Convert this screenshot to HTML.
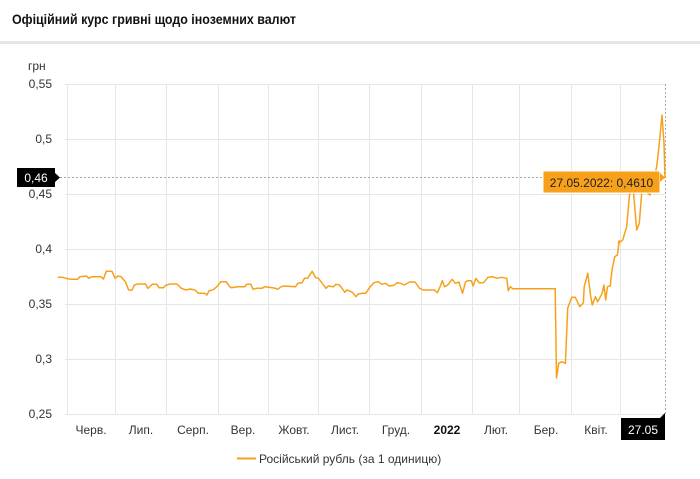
<!DOCTYPE html>
<html><head><meta charset="utf-8"><style>
body{margin:0;width:700px;height:474px;background:#fff;overflow:hidden;font-family:"Liberation Sans",sans-serif}
</style></head><body>
<svg width="700" height="474" xmlns="http://www.w3.org/2000/svg" font-family="Liberation Sans, sans-serif">
<text x="12" y="24" font-size="14" font-weight="bold" fill="#111" textLength="284" lengthAdjust="spacingAndGlyphs">Офіційний курс гривні щодо іноземних валют</text>
<rect x="0" y="41" width="700" height="3" fill="#e6e6e6"/>
<g stroke="#e6e6e6" stroke-width="1">
<line x1="65" y1="84.5" x2="665" y2="84.5"/><line x1="65" y1="139.5" x2="665" y2="139.5"/><line x1="65" y1="194.5" x2="665" y2="194.5"/><line x1="65" y1="249.5" x2="665" y2="249.5"/><line x1="65" y1="304.5" x2="665" y2="304.5"/><line x1="65" y1="359.5" x2="665" y2="359.5"/><line x1="65" y1="414.5" x2="665" y2="414.5"/>
<line x1="67.5" y1="84" x2="67.5" y2="414"/><line x1="115.5" y1="84" x2="115.5" y2="414"/><line x1="166.5" y1="84" x2="166.5" y2="414"/><line x1="218.5" y1="84" x2="218.5" y2="414"/><line x1="268.5" y1="84" x2="268.5" y2="414"/><line x1="318.5" y1="84" x2="318.5" y2="414"/><line x1="369.5" y1="84" x2="369.5" y2="414"/><line x1="421.5" y1="84" x2="421.5" y2="414"/><line x1="472.5" y1="84" x2="472.5" y2="414"/><line x1="519.5" y1="84" x2="519.5" y2="414"/><line x1="571.5" y1="84" x2="571.5" y2="414"/><line x1="620.5" y1="84" x2="620.5" y2="414"/>
</g>
<g font-size="12" fill="#333" text-anchor="end">
<text x="28" y="70" text-anchor="start">грн</text>
<text x="52" y="88">0,55</text><text x="52" y="143">0,5</text><text x="52" y="198">0,45</text><text x="52" y="253">0,4</text><text x="52" y="308">0,35</text><text x="52" y="363">0,3</text><text x="52" y="418">0,25</text>
</g>
<g font-size="12" fill="#333" text-anchor="middle">
<text x="91" y="434">Черв.</text><text x="141" y="434">Лип.</text><text x="193" y="434">Серп.</text><text x="243" y="434">Вер.</text><text x="294" y="434">Жовт.</text><text x="345" y="434">Лист.</text><text x="396" y="434">Груд.</text><text x="447" y="434" font-weight="bold" fill="#111">2022</text><text x="496" y="434">Лют.</text><text x="546" y="434">Бер.</text><text x="596" y="434">Квіт.</text>
</g>
<line x1="60" y1="177.5" x2="665" y2="177.5" stroke="#aaa" stroke-dasharray="2,2"/>
<line x1="665.5" y1="84" x2="665.5" y2="414" stroke="#aaa" stroke-dasharray="2,2"/>
<path id="ln" d="" fill="none" stroke="#f7a11a" stroke-width="1.5" stroke-linejoin="round"/>
<rect x="17" y="168" width="38" height="19" fill="#000"/><polygon points="55,173 60,177.5 55,182" fill="#000"/>
<text x="36" y="182" font-size="12" fill="#fff" text-anchor="middle">0,46</text>
<rect x="621" y="418" width="44" height="22" fill="#000"/><polygon points="660,418 665,413 665,418" fill="#000"/>
<text x="643" y="434" font-size="12" fill="#fff" text-anchor="middle">27.05</text>
<rect x="543" y="171" width="117" height="22" fill="#f7a11a" stroke="#fff" stroke-width="1"/><polygon points="660,173 665,177.5 660,182" fill="#f7a11a"/>
<text x="601.5" y="187" font-size="12" fill="#222" text-anchor="middle">27.05.2022: 0,4610</text>
<line x1="237" y1="458.5" x2="256" y2="458.5" stroke="#f7a11a" stroke-width="2"/>
<text x="259" y="463" font-size="12" fill="#333">Російський рубль (за 1 одиницю)</text>
</svg>
<script>
var z=[134,112,145,112,155,116,165,118,178,118,183,110,198,108,203,115,210,110,230,110,236,117,242,94,255,94,262,115,268,108,275,110,285,125,292,150,300,150,305,135,312,132,330,132,335,145,345,133,355,133,360,143,370,143,375,136,385,132,400,132,410,145,420,150,430,147,440,150,448,160,462,160,467,165,472,152,480,150,488,142,498,125,510,125,518,140,522,143,535,140,552,140,556,133,565,133,570,148,578,145,590,145,596,140,605,142,620,145,625,148,633,140,640,138,665,140,670,130,680,128,685,115,692,115,702,94,710,113,716,115,722,125,733,145,738,138,750,140,755,133,763,135,770,147,775,157,780,150,792,157,800,170,805,162,815,160,822,160,830,143,840,128,850,125,858,133,865,130,875,138,885,136,892,128,900,130,908,135,920,126,932,126,942,145,950,150,975,150,982,158,988,140,993,122,998,140,1005,135,1015,118,1022,130,1030,126,1038,160,1045,125,1050,122,1058,122,1062,138,1068,115,1075,128,1085,128,1095,112,1105,110,1115,115,1125,112,1137,115,1140,152,1145,140,1150,146,1245,146,1248,414,1253,370,1260,365,1268,370,1273,205,1282,172,1290,172,1300,200,1308,188,1310,140,1318,100,1324,165,1328,195,1335,170,1340,185,1350,160,1354,135,1358,180,1362,140,1368,138,1372,90,1378,50,1384,45,1388,2];
var p=[];for(var i=0;i<z.length;i+=2){p.push([65+(z[i]-150)/2.234,240+z[i+1]/3]);}
p=p.concat([[618.3,243.3],[622.7,240],[626.7,226.7],[629.3,196.7],[630.7,190],[633.3,190],[635,210],[636.7,230],[639.3,223.3],[641.7,193.3],[643.3,190],[650,195],[656.7,166.7],[659.3,143.3],[662,115],[664,143.3],[665,178.3]]);
document.getElementById('ln').setAttribute('d','M'+p.map(function(a){return a[0].toFixed(1)+','+a[1].toFixed(1)}).join('L'));
</script>
</body></html>
